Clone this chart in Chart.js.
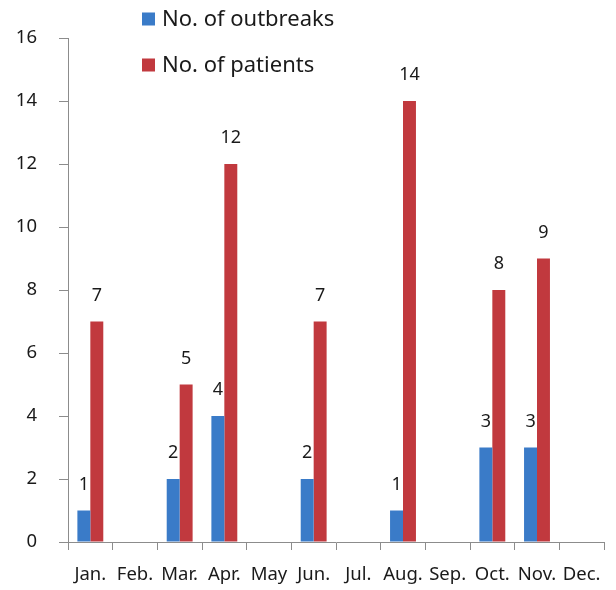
<!DOCTYPE html>
<html>
<head>
<meta charset="utf-8">
<script src="https://cdn.jsdelivr.net/npm/chart.js@4"></script>
<style>
  html, body { margin:0; padding:0; background:#fff; }
  #wrap { width:616px; height:590px; }
</style>
</head>
<body>
<div id="wrap"><canvas id="grafica" width="616" height="590"></canvas></div>
<script>
// datos
var meses = ['Jan.', 'Feb.', 'Mar.', 'Apr.', 'May', 'Jun.', 'Jul.', 'Aug.', 'Sep.', 'Oct.', 'Nov.', 'Dec.']
var brotes = [1, 0, 2, 4, 0, 2, 0, 1, 0, 3, 3, 0]
var pacientes = [7, 0, 5, 12, 0, 7, 0, 14, 0, 8, 9, 0]
var nombres = ['No. of outbreaks', 'No. of patients']
var colores = ['#3a7bc8', '#c1393e']
var yTicks = [0, 2, 4, 6, 8, 10, 12, 14, 16]

var fuente = '"Noto Sans", "DejaVu Sans", sans-serif'

// etiquetas encima de las barras
var etiquetas = {
    id: 'etiquetas',
    afterDatasetsDraw(chart) {
        var ctx = chart.ctx
        ctx.save()
        ctx.font = '18px ' + fuente
        ctx.fillStyle = '#1a1a1a'
        ctx.textAlign = 'center'
        ctx.textBaseline = 'middle'
        chart.data.datasets.forEach((ds, i) => {
            chart.getDatasetMeta(i).data.forEach((bar, j) => {
                if (!ds.data[j]) return
                ctx.fillText(ds.data[j], bar.x, bar.y - 26)
            })
        })
        ctx.restore()
    }
}

// leyenda vertical dibujada a mano
var leyenda = {
    id: 'leyenda',
    afterDraw(chart) {
        var ctx = chart.ctx
        ctx.save()
        ctx.font = '22px ' + fuente
        ctx.textBaseline = 'middle'
        ctx.textAlign = 'left'
        nombres.forEach((n, i) => {
            var y = 19 + i * 46
            ctx.fillStyle = colores[i]
            ctx.fillRect(142, y - 6.5, 13, 13)
            ctx.fillStyle = '#1a1a1a'
            ctx.fillText(n, 162, y + 1)
        })
        ctx.restore()
    }
}

var graf = document.getElementById('grafica').getContext('2d')
var chart = new Chart(graf, {
    type: 'bar',
    data: {
        labels: meses,
        datasets: [
            { label: nombres[0], backgroundColor: colores[0], data: brotes },
            { label: nombres[1], backgroundColor: colores[1], data: pacientes }
        ]
    },
    options: {
        responsive: false,
        animation: false,
        layout: { padding: { top: 38, right: 12, left: 0, bottom: 0 } },
        datasets: { bar: { barPercentage: 1, categoryPercentage: 0.58 } },
        plugins: {
            legend: { display: false },
            tooltip: { enabled: false }
        },
        scales: {
            x: {
                offset: true,
                grid: { offset: true, drawOnChartArea: false, tickLength: 8, color: '#8c8c8c' },
                border: { color: '#8c8c8c' },
                ticks: { font: { family: fuente, size: 18.5 }, color: '#1a1a1a', padding: 14, maxRotation: 0, autoSkip: false },
                afterFit(s) { s.height = 48 }
            },
            y: {
                min: 0, max: 16,
                afterBuildTicks(s) { s.ticks = yTicks.map(v => ({ value: v })) },
                grid: { drawOnChartArea: false, tickLength: 9, color: '#8c8c8c' },
                border: { color: '#8c8c8c' },
                ticks: { font: { family: fuente, size: 18.5 }, color: '#1a1a1a', padding: 22 },
                afterFit(s) { s.width = 68 }
            }
        }
    },
    plugins: [etiquetas, leyenda]
})
</script>
</body>
</html>
